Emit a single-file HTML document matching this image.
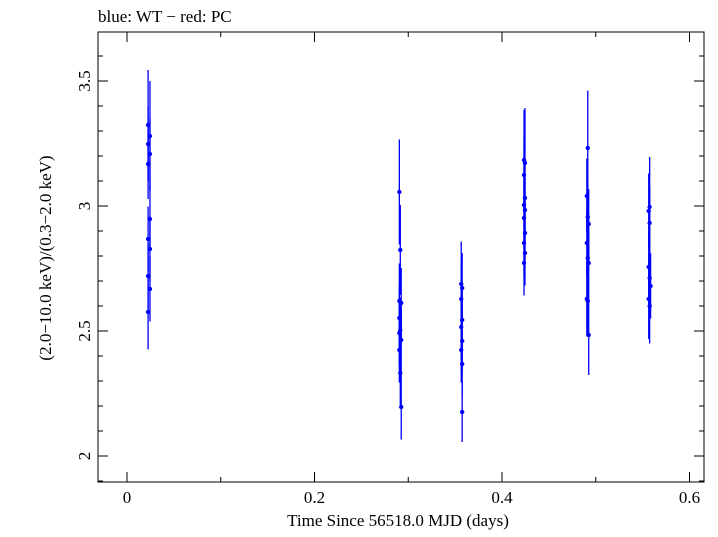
<!DOCTYPE html>
<html><head><meta charset="utf-8"><style>
body{margin:0;background:#fff}
text{font-family:"Liberation Serif",serif;fill:#000}
</style></head><body>
<svg id="chart" width="718" height="532" xmlns="http://www.w3.org/2000/svg">
<text x="98" y="22" font-size="17">blue: WT − red: PC</text>
<rect x="98" y="32" width="606" height="450" fill="none" stroke="#000" stroke-width="1"/>
<g id="axes"></g>
<g id="marks"></g>
<text x="398" y="526" font-size="17" text-anchor="middle">Time Since 56518.0 MJD (days)</text>
<text transform="translate(51,258) rotate(-90)" font-size="17" text-anchor="middle">(2.0−10.0 keV)/(0.3−2.0 keV)</text>
</svg>
<script>
const times=[0.0225,0.0245,0.0225,0.0245,0.0225,0.0245,0.0225,0.0245,0.0225,0.0245,0.0225,
0.2905,0.2915,0.2905,0.2925,0.2905,0.2915,0.2905,0.2925,0.2905,0.2915,0.2925,
0.3565,0.3575,0.3565,0.3575,0.3565,0.3575,0.3565,0.3575,0.3575,
0.4235,0.4245,0.4235,0.4245,0.4235,0.4245,0.4235,0.4245,0.4235,0.4245,0.4235,
0.4915,0.4905,0.4915,0.4925,0.4905,0.4915,0.4925,0.4905,0.4915,0.4925,
0.5575,0.5565,0.5575,0.5565,0.5575,0.5585,0.5565,0.5575];
const ratios=[3.324,3.28,3.248,3.208,3.168,2.948,2.868,2.828,2.72,2.668,2.576,
3.056,2.824,2.62,2.612,2.552,2.504,2.492,2.464,2.424,2.332,2.196,
2.688,2.672,2.628,2.544,2.516,2.46,2.424,2.368,2.176,
3.184,3.172,3.124,3.032,3.004,2.984,2.952,2.892,2.852,2.812,2.772,
3.232,3.04,2.956,2.928,2.852,2.792,2.772,2.628,2.62,2.484,
2.996,2.98,2.932,2.756,2.712,2.68,2.628,2.6];
const errs=[0.22,0.22,0.15,0.14,0.14,0.13,0.13,0.13,0.13,0.13,0.15,
0.21,0.18,0.15,0.14,0.13,0.13,0.13,0.13,0.13,0.13,0.13,
0.17,0.14,0.13,0.13,0.13,0.13,0.13,0.13,0.12,
0.2,0.22,0.15,0.14,0.13,0.13,0.13,0.13,0.13,0.13,0.13,
0.23,0.15,0.14,0.14,0.13,0.13,0.13,0.15,0.14,0.16,
0.2,0.15,0.14,0.14,0.13,0.13,0.16,0.15];
const xTicks=[0,0.2,0.4,0.6];
const xMinor=[0.1,0.3,0.5];
const yTicks=[2,2.5,3,3.5];
const X=v=>127+v*937.5;
const Y=v=>456-(v-2)*250;
const NS="http://www.w3.org/2000/svg";
function mk(tag,attrs,parent){const e=document.createElementNS(NS,tag);for(const k in attrs)e.setAttribute(k,attrs[k]);parent.appendChild(e);return e;}
const ax=document.getElementById('axes'),mg=document.getElementById('marks');
xMinor.forEach(t=>{const x=X(t);
const l1=mk('line',{x1:x,x2:x,y1:482,y2:477,stroke:'#000'},ax);


const l2=mk('line',{x1:x,x2:x,y1:32,y2:37,stroke:'#000'},ax);

});
xTicks.forEach(t=>{const x=X(t);
const a=mk('line',{x1:x,x2:x,y1:482,y2:472,stroke:'#000'},ax);


const b=mk('line',{x1:x,x2:x,y1:32,y2:42,stroke:'#000'},ax);


const tx=mk('text',{x:x,y:503,'font-size':17,'text-anchor':'middle'},ax);tx.textContent=String(t);

});
for(let i=19;i<=37;i++){const v=i/10;const y=Y(v);if(y<32||y>482)continue;
const a=mk('line',{x1:98,x2:103,y1:y,y2:y,stroke:'#000'},ax);


const b=mk('line',{x1:704,x2:699,y1:y,y2:y,stroke:'#000'},ax);

}
yTicks.forEach(v=>{const y=Y(v);
const a=mk('line',{x1:98,x2:108,y1:y,y2:y,stroke:'#000'},ax);


const b=mk('line',{x1:704,x2:694,y1:y,y2:y,stroke:'#000'},ax);


const tx=mk('text',{transform:`translate(90,${y}) rotate(-90)`,'font-size':17,'text-anchor':'middle'},ax);tx.textContent=String(v);

});
times.forEach((t,i)=>{const x=X(t),y=Y(ratios[i]);
const e=mk('line',{x1:x,x2:x,y1:Y(ratios[i]+errs[i]),y2:Y(ratios[i]-errs[i]),stroke:'#0000ff','stroke-width':1.3},mg);


const c=mk('circle',{cx:x,cy:y,r:2.2,fill:'#0000ff'},mg);

});
</script>
</body></html>
